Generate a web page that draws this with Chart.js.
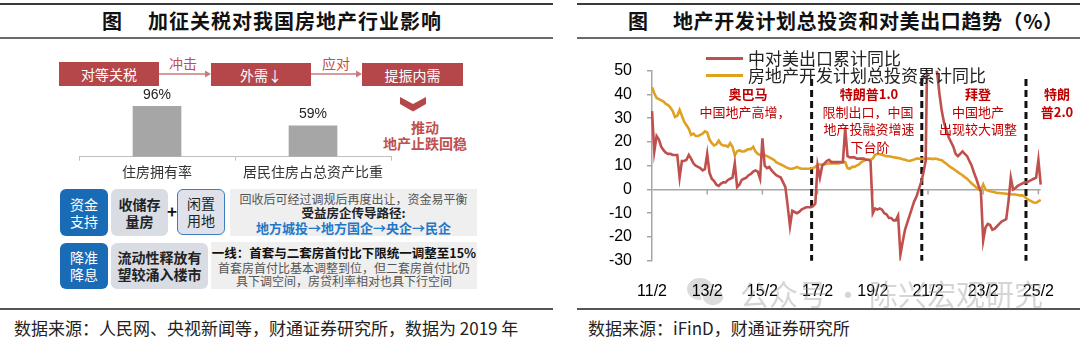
<!DOCTYPE html>
<html><head><meta charset="utf-8">
<script src="https://cdn.jsdelivr.net/npm/chart.js@4.4.0/dist/chart.umd.min.js"></script>
<style>
html,body{margin:0;padding:0;background:#fff;}
body{width:1080px;height:337px;position:relative;overflow:hidden;font-family:"Noto Sans CJK SC","Noto Sans",sans-serif;color:#222;}
.a{position:absolute;white-space:nowrap;}
.hl{position:absolute;}
.ttl{position:absolute;font-size:20px;font-weight:bold;line-height:20px;top:11px;color:#111;}
.rb{position:absolute;background:#b5474b;color:#fff;font-size:14px;display:flex;align-items:center;justify-content:center;}
.lbl{position:absolute;font-size:14px;color:#c0504d;line-height:14px;transform:translate(-50%,-50%);}
.bb{position:absolute;background:#1a6bb5;color:#fff;border-radius:6px;font-size:14px;line-height:17px;display:flex;align-items:center;justify-content:center;text-align:center;}
.gb{position:absolute;background:#d9dce3;border-radius:6px;font-size:14px;line-height:17px;font-weight:bold;color:#222;display:flex;align-items:center;justify-content:center;text-align:center;}
.info{position:absolute;background:#efefef;}
.ln{position:absolute;left:0;right:0;text-align:center;line-height:14px;transform:translateY(-50%);white-space:nowrap;}
.an{position:absolute;font-size:13px;line-height:13px;color:#c00000;transform:translate(-50%,-50%);white-space:nowrap;}
.src{position:absolute;top:319px;font-size:17px;line-height:18px;color:#222;}
</style>
</head><body>
<!-- header / footer rules -->
<div class="hl" style="left:0;top:3px;width:553px;height:2px;background:#3a3a3a"></div>
<div class="hl" style="left:577px;top:3px;width:503px;height:2px;background:#3a3a3a"></div>
<div class="hl" style="left:0;top:37px;width:553px;height:2px;background:#6a6a6a"></div>
<div class="hl" style="left:577px;top:37px;width:503px;height:2px;background:#6a6a6a"></div>
<div class="hl" style="left:0;top:308px;width:553px;height:2px;background:#555"></div>
<div class="hl" style="left:577px;top:308px;width:503px;height:2px;background:#555"></div>

<div class="ttl" style="left:102px">图</div>
<div class="ttl" style="left:148px;letter-spacing:1px">加征关税对我国房地产行业影响</div>
<div class="ttl" style="left:628px">图</div>
<div class="ttl" style="left:673px;letter-spacing:0.6px">地产开发计划总投资和对美出口趋势（%）</div>

<div class="src" style="left:14px">数据来源：人民网、央视新闻等，财通证券研究所，数据为 2019 年</div>
<div class="src" style="left:588px">数据来源：iFinD，财通证券研究所</div>

<!-- left flow diagram -->
<div class="rb" style="left:59px;top:62px;width:100px;height:24px">对等关税</div>
<div class="rb" style="left:211px;top:63px;width:100px;height:23px">外需↓</div>
<div class="rb" style="left:362px;top:63px;width:101px;height:23px">提振内需</div>
<div class="lbl" style="left:183px;top:63px">冲击</div>
<div class="lbl" style="left:336px;top:63px">应对</div>
<div class="lbl" style="left:425px;top:127px;font-weight:bold">推动</div>
<div class="lbl" style="left:425px;top:143px;font-weight:bold">地产止跌回稳</div>

<svg class="a" style="left:0;top:0" width="1080" height="337">
  <line x1="159" y1="74" x2="206" y2="74" stroke="#c87a7c" stroke-width="1.5"/>
  <polygon points="205,70.5 211,74 205,77.5" fill="#c87a7c"/>
  <line x1="311" y1="74" x2="357" y2="74" stroke="#c87a7c" stroke-width="1.5"/>
  <polygon points="356,70.5 362,74 356,77.5" fill="#c87a7c"/>
  <polygon points="400,97 413,104 426,97 426,104 413,111.5 400,104" fill="#b5474b"/>
  <g fill="#d4d4d4" opacity="0.8">
    <ellipse cx="700" cy="289" rx="13" ry="11"/>
    <ellipse cx="713" cy="297" rx="11" ry="9" stroke="#fff" stroke-width="1.5"/>
  </g>
</svg>

<canvas id="bar" class="a" style="left:60px;top:88px" width="350" height="100"></canvas>

<div class="bb" style="left:60px;top:189px;width:48px;height:47px">资金<br>支持</div>
<div class="gb" style="left:111px;top:189px;width:57px;height:47px">收储存<br>量房</div>
<div class="a" style="left:167px;top:201px;font-size:17px;font-weight:bold;line-height:20px;color:#111">+</div>
<div class="gb" style="left:177px;top:189px;width:46px;height:44px;border:1.5px solid #3a7dc0;background:#dfe2ea;font-weight:normal">闲置<br>用地</div>
<div class="info" style="left:230px;top:189px;width:247px;height:47px">
  <div class="ln" style="top:10px;font-size:12px;color:#555">回收后可经过调规后再度出让，资金易平衡</div>
  <div class="ln" style="top:24px;font-size:12.5px;font-weight:bold;color:#222">受益房企传导路径:</div>
  <div class="ln" style="top:39px;font-size:13px;font-weight:bold;color:#1f78c8">地方城投→地方国企→央企→民企</div>
</div>
<div class="bb" style="left:60px;top:243px;width:48px;height:46px">降准<br>降息</div>
<div class="gb" style="left:111px;top:243px;width:97px;height:46px">流动性释放有<br>望较涌入楼市</div>
<div class="info" style="left:211px;top:242px;width:266px;height:47px">
  <div class="ln" style="top:11px;font-size:12.5px;font-weight:bold;color:#111">一线：首套与二套房首付比下限统一调整至15%</div>
  <div class="ln" style="top:26px;font-size:12px;color:#555">首套房首付比基本调整到位，但二套房首付比仍</div>
  <div class="ln" style="top:38.5px;font-size:12px;color:#555">具下调空间，房贷利率相对也具下行空间</div>
</div>

<!-- right chart -->
<canvas id="line" class="a" style="left:578px;top:40px" width="502" height="262"></canvas>

<div class="a" style="left:706px;top:56.5px;width:37px;height:3px;background:#c0504d"></div>
<div class="a" style="left:706px;top:73.5px;width:37px;height:3px;background:#e0a020"></div>
<div class="a" style="left:748px;top:49px;font-size:17px;line-height:18px;color:#222">中对美出口累计同比</div>
<div class="a" style="left:748px;top:66px;font-size:17px;line-height:18px;color:#222">房地产开发计划总投资累计同比</div>

<div class="an" style="left:748px;top:93px;font-weight:bold">奥巴马</div>
<div class="an" style="left:745px;top:110.5px">中国地产高增，</div>
<div class="an" style="left:869px;top:93px;font-weight:bold">特朗普1.0</div>
<div class="an" style="left:868px;top:110.5px">限制出口，中国</div>
<div class="an" style="left:869px;top:128px">地产投融资增速</div>
<div class="an" style="left:870px;top:146px">下台阶</div>
<div class="an" style="left:978px;top:93px;font-weight:bold">拜登</div>
<div class="an" style="left:978px;top:110.5px">中国地产</div>
<div class="an" style="left:978px;top:128px">出现较大调整</div>
<div class="an" style="left:1057px;top:93px;font-weight:bold">特朗</div>
<div class="an" style="left:1057px;top:110.5px;font-weight:bold">普2.0</div>

<div class="a" style="left:740px;top:277px;font-size:29px;line-height:32px;color:rgba(150,150,150,0.4)">公众号 · 陈兴宏观研究</div>

<script>
// ---------- left bar chart data ----------
const barCategories = ['住房拥有率', '居民住房占总资产比重'];
const barValues = [96, 59];

// ---------- right line chart data (monthly, 2011/2 – 2025/3) ----------
const startYear = 11, startMonth = 2, monthCount = 170;
const tickLabels = ['11/2','13/2','15/2','17/2','19/2','21/2','23/2','25/2'];
const exportUS = [
  33,16,22.5,21,18,16.5,15.5,15,15,14.5,14.5,14.5,
  5,12,12,12.5,14.5,13,11,10,9.5,9,8,8.5,
  15,7,4.5,3.5,2,1.5,2.5,3,3,4,4.5,5,
  11,1,2,4,4.5,5,6,6.5,7.5,8,7.5,4.5,
  21.5,10,9,9.5,8,7,6,5.5,5,3,1,-7,
  -15.5,-9,-9.5,-10,-9.5,-8.5,-8,-7.5,-7.5,-7.5,-7,-6,
  10,5,10,11,12,12.5,11.5,11.5,11.5,11.5,11.5,11.5,
  26,14,13.5,13.5,13.5,13,13,13,13,12.5,12.5,12,
  -10,-8,-8.5,-8,-8.5,-10,-10.5,-12,-12,-13,-13,-11,
  -27.5,-22,-17,-14,-11,-8,-5,-3,0,3,7,12,
  80,70,65,55,49,40,33,28,25,22,20,18,
  15,14,15,16,15,14,12,10,7,4.5,1.5,-1,
  -21.5,-16,-14.5,-15,-17,-16.5,-15.5,-14.5,-13.5,-13,-12.5,-5,
  5,0,0.5,1.5,2,2.5,3,3,3.5,4,4.5,5,
  12.5,2
];
const realEstateInv = [
  43,40.5,38.5,38,37.5,37,36,35.5,34.5,33,30.5,31,
  33.5,31,28.5,27,25.5,23,23.5,22.5,22.5,23,23.5,24.5,
  24,21,19.5,18.5,19,20.5,19,18.5,18.5,18,19.5,18,
  14.5,16,16.5,16,16,16.5,17,17,18,16,15,14.5,
  14.5,14.5,14,13.5,13,12.5,11.5,11,10.5,10,9.5,9,
  8.7,8.7,9,9.5,9,8.7,8.7,8.7,8.7,8.8,9,9.5,
  10.5,10.5,10.5,10.5,10.8,11,11,11,11,11,11.2,11.5,
  11.5,9,8.7,9.5,9.5,10,10.5,11.5,12,12.5,12.5,12.5,
  13,14.5,15,14.8,14.6,14.3,14,14,13.8,13.6,13.4,13.2,
  13,12.7,12.5,12.2,12,12.3,12.6,13,13,12.8,13,13,
  13,13,12.8,13,12.8,12.5,12.3,11.5,10.8,10,9.3,8.7,
  8,7.3,6.6,6,5.2,4.5,3.5,2.5,1.7,0.8,0,-0.2,
  2.2,0,-0.5,-0.8,-1,-1.2,-1.5,-1.5,-1.6,-1.7,-1.8,-1.9,
  -2,-2.1,-2.1,-2.3,-2.5,-2.5,-3,-4,-4.5,-5,-5.5,-5.6,
  -5,-4.4
];
// presidential-term markers (month index from 2011/2)
const termMarks = [69.4, 117.3, 162.6];
const markTop = 46.5, markBottom = -30;

const months = [];
for (let i = 0; i < monthCount; i++) {
  const off = startMonth - 1 + i;
  months.push((startYear + Math.floor(off / 12)) + '/' + ((off % 12) + 1));
}

const numFont = {family: '"Liberation Sans", Arial, sans-serif', size: 16};

// ---------- bar chart ----------
const barLabelPlugin = {
  id: 'barLabels',
  afterDatasetsDraw(chart) {
    const ctx = chart.ctx;
    const meta = chart.getDatasetMeta(0);
    ctx.save();
    ctx.font = '14px "Liberation Sans", Arial, sans-serif';
    ctx.fillStyle = '#222';
    ctx.textAlign = 'center';
    ctx.textBaseline = 'middle';
    meta.data.forEach((el, i) => {
      ctx.fillText(barValues[i] + '%', el.x, el.y - 11);
    });
    ctx.restore();
  }
};
new Chart(document.getElementById('bar'), {
  type: 'bar',
  data: {labels: barCategories, datasets: [{data: barValues, backgroundColor: '#a6a6a6', barPercentage: 0.312, categoryPercentage: 1}]},
  options: {
    responsive: false, animation: false, devicePixelRatio: 1,
    layout: {padding: {left: 19, right: 19, top: 15.9, bottom: 0}},
    plugins: {legend: {display: false}, tooltip: {enabled: false}},
    scales: {
      x: {
        afterFit(s) { s.height = 31.3; },
        grid: {display: true, drawOnChartArea: false, drawTicks: true, tickLength: 4, color: '#bfbfbf', offset: true},
        border: {display: true, color: '#bfbfbf', width: 1},
        ticks: {font: {family: '"Noto Sans CJK SC", sans-serif', size: 14}, color: '#333', padding: 3}
      },
      y: {display: false, min: 0, max: 100}
    }
  },
  plugins: [barLabelPlugin]
});

// ---------- line chart ----------
const decoPlugin = {
  id: 'deco',
  beforeDatasetsDraw(chart) {
    const {ctx, scales: {x, y}} = chart;
    ctx.save();
    const y0 = y.getPixelForValue(0);
    ctx.strokeStyle = '#a6a6a6';
    ctx.lineWidth = 1.5;
    months.forEach((m, i) => {
      if (i > 0 && tickLabels.includes(m)) {
        const px = x.getPixelForValue(i);
        ctx.beginPath(); ctx.moveTo(px, y0); ctx.lineTo(px, y0 + 5); ctx.stroke();
      }
    });
    ctx.setLineDash([7, 4]);
    ctx.strokeStyle = '#111';
    ctx.lineWidth = 3;
    termMarks.forEach(v => {
      const px = x.getPixelForValue(v);
      ctx.beginPath();
      ctx.moveTo(px, y.getPixelForValue(markTop));
      ctx.lineTo(px, y.getPixelForValue(markBottom));
      ctx.stroke();
    });
    ctx.restore();
  }
};
new Chart(document.getElementById('line'), {
  type: 'line',
  data: {
    labels: months,
    datasets: [
      {label: '中对美出口累计同比', data: exportUS, borderColor: '#c0504d', borderWidth: 2.6, pointRadius: 0, tension: 0},
      {label: '房地产开发计划总投资累计同比', data: realEstateInv, borderColor: '#e0a020', borderWidth: 2.6, pointRadius: 0, tension: 0}
    ]
  },
  options: {
    responsive: false, animation: false, devicePixelRatio: 1,
    layout: {padding: {left: 0, right: 39.3, top: 30.7, bottom: 0}},
    plugins: {legend: {display: false}, tooltip: {enabled: false}},
    scales: {
      x: {
        afterFit(s) { s.height = 41.3; },
        grid: {display: false},
        border: {display: false},
        ticks: {
          autoSkip: false, maxRotation: 0, padding: 13, color: '#000', font: numFont,
          callback(v, i) { const l = months[i]; return tickLabels.includes(l) ? l : null; }
        }
      },
      y: {
        min: -30, max: 50,
        afterFit(s) { s.width = 74; },
        ticks: {stepSize: 10, padding: 15, color: '#000', font: numFont},
        grid: {
          color: c => (c.tick && c.tick.value === 0) ? '#a6a6a6' : 'rgba(0,0,0,0)',
          lineWidth: 1.5, drawTicks: true, tickLength: 5, tickColor: '#a6a6a6'
        },
        border: {display: true, color: '#a6a6a6', width: 1.5}
      }
    }
  },
  plugins: [decoPlugin]
});
</script>
</body></html>
